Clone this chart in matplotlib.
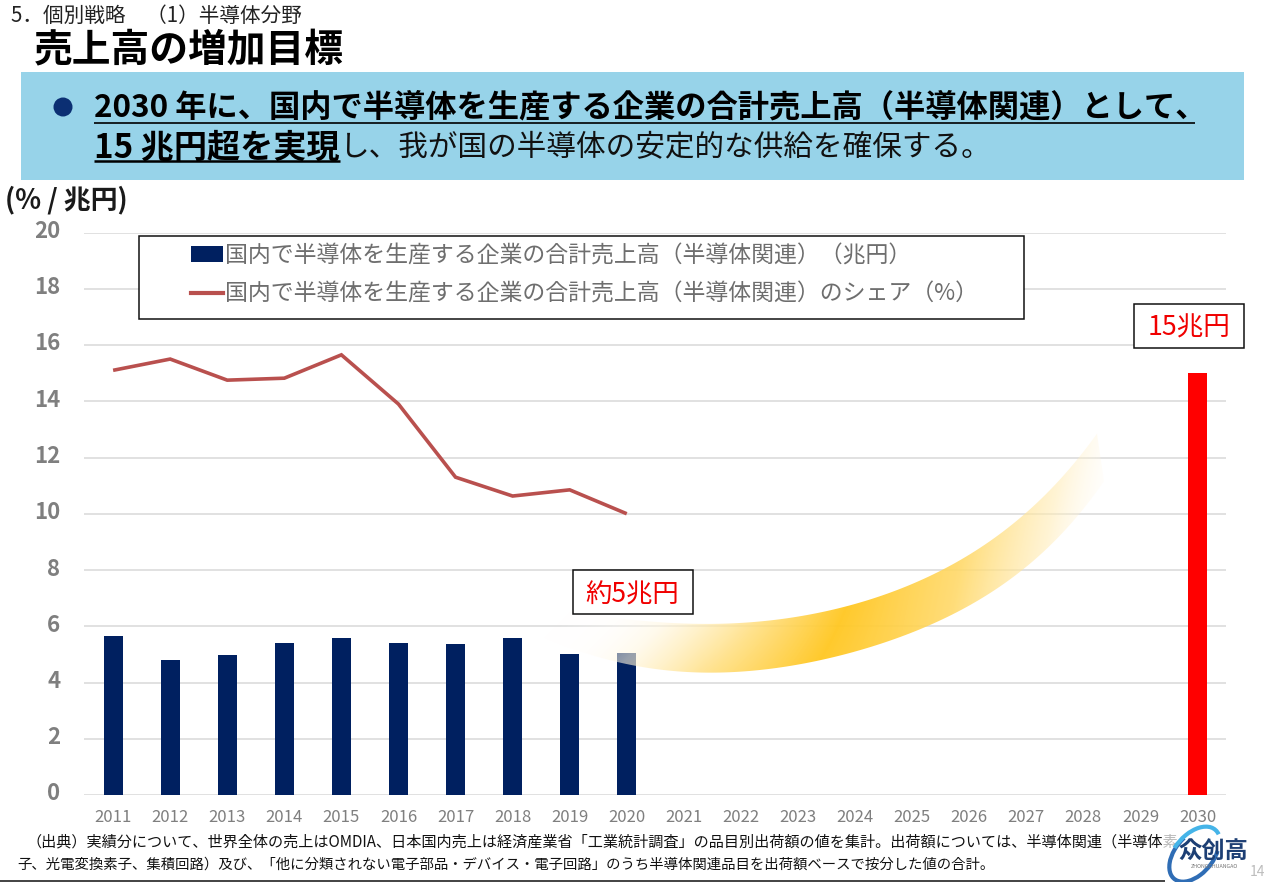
import numpy as np
import matplotlib
matplotlib.use("Agg")
import matplotlib.pyplot as plt
from matplotlib.patches import Rectangle, Circle, Polygon, Arc
from matplotlib.lines import Line2D
from matplotlib.colors import to_rgb
from matplotlib.transforms import ScaledTranslation

plt.rcParams['font.family'] = ['Noto Sans CJK JP', 'DejaVu Sans']

# ---- data ----
years = list(range(2011, 2031))
actual_years = years[:10]
sales_actual = [5.65, 4.8, 4.97, 5.4, 5.57, 5.4, 5.37, 5.6, 5.0, 5.05]
target_years = [2030]
sales_target = [15]
share = [15.1, 15.5, 14.75, 14.82, 15.65, 13.9, 11.3, 10.63, 10.85, 10.0]
y_ticks = list(range(0, 21, 2))
legend_labels = ['国内で半導体を生産する企業の合計売上高（半導体関連）（兆円）',
                 '国内で半導体を生産する企業の合計売上高（半導体関連）のシェア（%）']

W, H = 1267, 882
fig = plt.figure(figsize=(W / 100, H / 100), dpi=100, facecolor='white')

# ---- chart axes ----
L, R, T, B = 84, 1226, 232.5, 795
ax = fig.add_axes([L / W, 1 - B / H, (R - L) / W, (B - T) / H])
ax.set_xlim(2010.49, 2030.5)
ax.set_ylim(0, 20)
ax.set_facecolor('none')
for s in ax.spines.values():
    s.set_visible(False)
ax.set_yticks(y_ticks)
ax.set_xticks(years)
ax.grid(axis='y', color='#D9D9D9', lw=1.1)
ax.set_axisbelow(True)
ax.tick_params(axis='both', length=0)
ax.tick_params(axis='y', pad=17, labelsize=16, labelcolor='#7F7F7F')
ax.tick_params(axis='x', pad=10, labelsize=12, labelcolor='#7F7F7F')
lift = ScaledTranslation(0, 3.5 / 100, fig.dpi_scale_trans)
for t in ax.get_yticklabels():
    t.set_fontweight('bold')
    t.set_transform(t.get_transform() + lift)

ax.bar(actual_years, sales_actual, width=0.33, color='#002060', zorder=2)
ax.bar(target_years, sales_target, width=0.33, color='#FF0000', zorder=2)
ax.plot(actual_years, share, color='#B9504E', lw=2.6, zorder=3,
        solid_joinstyle='miter', solid_capstyle='butt')

# ---- overlay in pixel coordinates ----
ov = fig.add_axes([0, 0, 1, 1], facecolor='none')
ov.set_xlim(0, W)
ov.set_ylim(H, 0)
ov.axis('off')

# decorative growth band with gradient: edges smoothed from a few traced points
top_x, top_y = zip(*[(540, 607), (584, 615), (650, 621), (710, 623), (790, 618), (858, 605),
                     (942, 568), (1026, 513), (1081, 457), (1097, 432)])
bot_x, bot_y = zip(*[(540, 636), (584, 653), (647, 668), (719, 672), (780, 667), (837, 657),
                     (921, 630), (1005, 580), (1068, 530), (1104, 480)])
tx = np.linspace(540, 1097, 120)
bx = np.linspace(540, 1104, 120)
ty = np.polyval(np.polyfit(top_x, top_y, 5), tx)
by = np.polyval(np.polyfit(bot_x, bot_y, 5), bx)
poly = Polygon(np.vstack([np.column_stack([tx, ty]), np.column_stack([bx, by])[::-1]]),
               closed=True, transform=ov.transData, fc='none', ec='none')
ov.add_patch(poly)
xs = np.arange(500, 1130)
ys = np.arange(400, 690)
gx, gy = np.meshgrid(xs, ys)
k = np.interp(gx, [700, 900], [1.0, 0.2])
u = gx + k * (gy - 620)
stops_x = [560, 620, 665, 760, 840, 950, 1030, 1095]
stops_a = [0.0, 0.35, 0.6, 0.88, 0.97, 0.88, 0.6, 0.0]
stops_m = [0.0, 0.04, 0.14, 0.6, 1.0, 0.7, 0.33, 0.0]
alpha = np.interp(u, stops_x, stops_a)
mix = np.interp(u, stops_x, stops_m)
c0, c1 = np.array(to_rgb('#FFFFFF')), np.array(to_rgb('#FFC825'))
img = np.zeros(gx.shape + (4,))
for i in range(3):
    img[..., i] = c0[i] + (c1[i] - c0[i]) * mix
img[..., 3] = alpha
im = ov.imshow(img, extent=(500, 1130, 690, 400), interpolation='bilinear', zorder=5, aspect='auto')
im.set_clip_path(poly)
ov.set_xlim(0, W)
ov.set_ylim(H, 0)


def fit(t, width):
    """Scale a text's font size so it occupies the given pixel width."""
    r = fig.canvas.get_renderer()
    w = t.get_window_extent(r).width
    t.set_fontsize(t.get_fontsize() * width / w)
    return t


def px(x, y, s, **kw):
    kw.setdefault('va', 'center')
    kw.setdefault('ha', 'left')
    kw.setdefault('color', 'black')
    kw.setdefault('zorder', 10)
    return ov.text(x, y, s, **kw)


# header
fit(px(11, 16, '5．個別戦略　（1）半導体分野', fontsize=12.5, color='#222222'), 291)
fit(px(34, 50, '売上高の増加目標', fontsize=28, fontweight='bold'), 310)

# banner
ov.add_patch(Rectangle((21, 72), 1223, 108, fc='#97D3E9', ec='none', zorder=1))
ov.add_patch(Circle((63, 107), 9.5, fc='#0B2F73', ec='none', zorder=2))
fit(px(94, 107, '2030 年に、国内で半導体を生産する企業の合計売上高（半導体関連）として、',
       fontsize=22, fontweight='bold'), 1112)
fit(px(94, 148, '15 兆円超を実現', fontsize=22, fontweight='bold'), 245)
fit(px(340, 148, 'し、我が国の半導体の安定的な供給を確保する。', fontsize=22, color='#111111'), 650)
ov.plot([94, 1195], [123, 123], color='black', lw=1.2, zorder=10, solid_capstyle='butt')
ov.plot([94, 340], [161, 161], color='black', lw=1.8, zorder=10, solid_capstyle='butt')

# unit
fit(px(5, 200, '(% / 兆円)', fontsize=15, fontweight='bold', color='#1A1A1A'), 123)

# legend frame and legend
ov.add_patch(Rectangle((139, 236), 885, 83, fc='white', ec='#111111', lw=1.1, zorder=6))
handles = [Rectangle((0, 0), 1, 1, fc='#002060', ec='none'),
           Line2D([0], [0], color='#B9504E', lw=3)]
leg = ov.legend(handles, legend_labels, loc='upper left',
                bbox_to_anchor=(186 / W, 1 - 239 / H), bbox_transform=fig.transFigure,
                frameon=False, fontsize=16.5, labelcolor='#6E6E6E',
                handlelength=1.4, handleheight=0.7, handletextpad=0.08,
                labelspacing=0.68, borderpad=0.22, borderaxespad=0)
leg.set_zorder(7)

# callouts
ov.add_patch(Rectangle((1134, 304), 110, 44, fc='white', ec='#111111', lw=1.1, zorder=6))
fit(px(1189, 328, '15兆円', ha='center', color='#F00000', fontsize=18), 83)
ov.add_patch(Rectangle((573, 570), 120, 44, fc='white', ec='#111111', lw=1.1, zorder=6))
fit(px(632, 595, '約5兆円', ha='center', color='#F00000', fontsize=18), 94)

# source note
fit(px(26, 842, '（出典）実績分について、世界全体の売上はOMDIA、日本国内売上は経済産業省「工業統計調査」の品目別出荷額の値を集計。'
       '出荷額については、半導体関連（半導体素', fontsize=11, color='#111111'), 1150)
fit(px(17, 865, '子、光電変換素子、集積回路）及び、「他に分類されない電子部品・デバイス・電子回路」のうち半導体関連品目を'
       '出荷額ベースで按分した値の合計。', fontsize=11, color='#111111'), 978)
ov.plot([0, 1165], [881, 881], color='#222222', lw=1.2, zorder=10, solid_capstyle='butt')

# watermark
px(1257, 872, '14', ha='center', color='#BDBDBD', fontsize=10, zorder=11)
ov.add_patch(Rectangle((1162, 832), 90, 28, fc='white', ec='none', alpha=0.7, zorder=11))
ov.add_patch(Arc((1194, 855), 62, 38, angle=-50, theta1=40, theta2=290, color='#2F6DB5', lw=3.0, zorder=12))
ov.add_patch(Arc((1194, 855), 66, 40, angle=-50, theta1=250, theta2=370, color='#45B4E8', lw=3.0, zorder=12))
fit(px(1213, 851, '众创高', ha='center', color='#1D3F74', fontweight='bold', fontsize=16, zorder=13), 70)
fit(px(1214, 866, 'ZHONGCHUANGAO', ha='center', color='#777777', fontsize=5, zorder=13), 48)

fig.savefig('out.png', dpi=100)
